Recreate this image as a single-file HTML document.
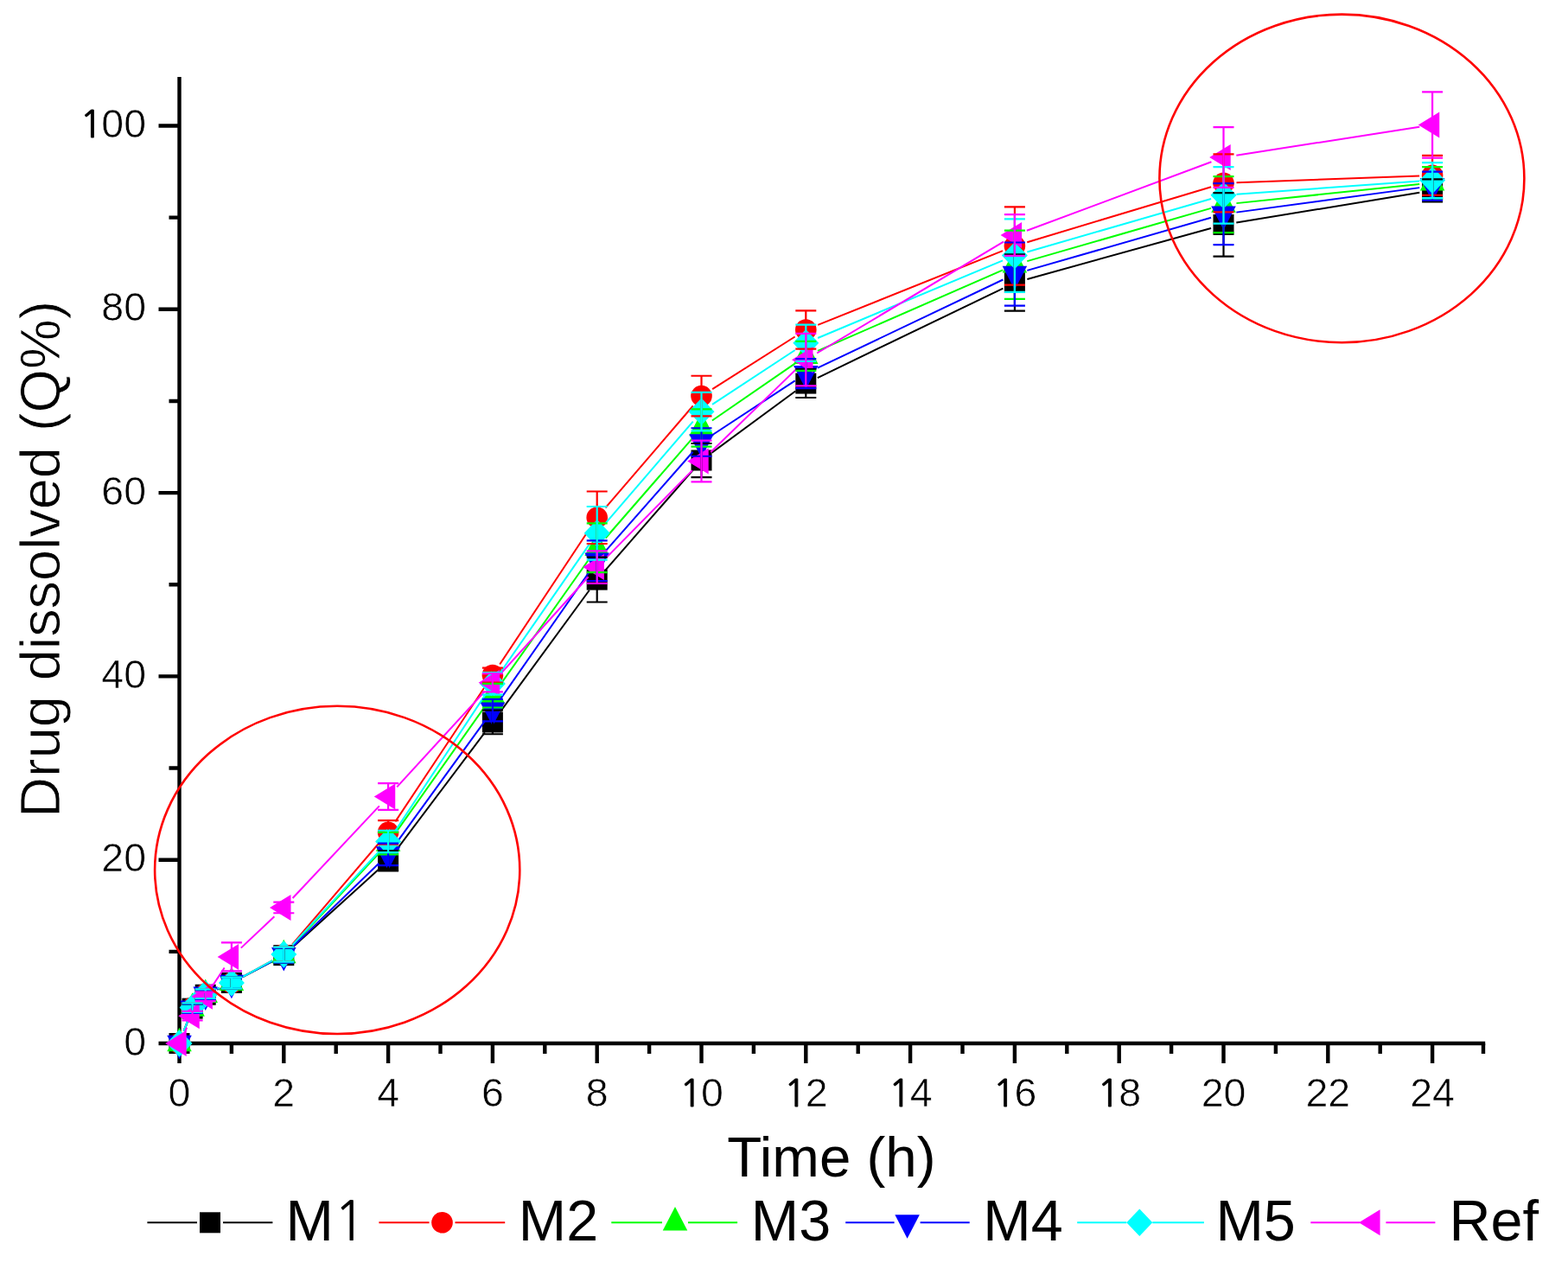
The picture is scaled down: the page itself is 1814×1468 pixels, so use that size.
<!DOCTYPE html>
<html><head><meta charset="utf-8"><title>Drug dissolved</title>
<style>html,body{margin:0;padding:0;background:#fff;overflow:hidden;}svg{display:block;} text{font-family:"Liberation Sans",Arial,sans-serif;fill:#000;}</style>
</head><body>
<svg width="1814" height="1468" viewBox="0 0 1814 1468">
<rect width="1814" height="1468" fill="#fff"/>
<path d="M207.5 89.0V1209.2M205.3 1207.0H1718.2" stroke="#000" stroke-width="4.4" fill="none"/>
<path d="M183.50 1207.00H207.5M195.50 1100.85H207.5M183.50 994.70H207.5M195.50 888.55H207.5M183.50 782.40H207.5M195.50 676.25H207.5M183.50 570.10H207.5M195.50 463.95H207.5M183.50 357.80H207.5M195.50 251.65H207.5M183.50 145.50H207.5M207.50 1207.0V1230.00M267.90 1207.0V1219.00M328.30 1207.0V1230.00M388.70 1207.0V1219.00M449.10 1207.0V1230.00M509.50 1207.0V1219.00M569.90 1207.0V1230.00M630.30 1207.0V1219.00M690.70 1207.0V1230.00M751.10 1207.0V1219.00M811.50 1207.0V1230.00M871.90 1207.0V1219.00M932.30 1207.0V1230.00M992.70 1207.0V1219.00M1053.10 1207.0V1230.00M1113.50 1207.0V1219.00M1173.90 1207.0V1230.00M1234.30 1207.0V1219.00M1294.70 1207.0V1230.00M1355.10 1207.0V1219.00M1415.50 1207.0V1230.00M1475.90 1207.0V1219.00M1536.30 1207.0V1230.00M1596.70 1207.0V1219.00M1657.10 1207.0V1230.00M1716.00 1207.0V1219.00" stroke="#000" stroke-width="4.4" fill="none"/>
<g>
<line x1="212.76" y1="1192.95" x2="217.34" y2="1180.71" stroke="#000000" stroke-width="2.0"/>
<line x1="251.34" y1="1144.51" x2="254.26" y2="1143.18" stroke="#000000" stroke-width="2.0"/>
<line x1="281.17" y1="1129.95" x2="315.03" y2="1112.09" stroke="#000000" stroke-width="2.0"/>
<line x1="339.42" y1="1095.03" x2="437.98" y2="1005.83" stroke="#000000" stroke-width="2.0"/>
<line x1="458.13" y1="983.78" x2="560.87" y2="847.45" stroke="#000000" stroke-width="2.0"/>
<line x1="578.77" y1="823.38" x2="681.83" y2="682.72" stroke="#000000" stroke-width="2.0"/>
<line x1="700.58" y1="659.33" x2="801.62" y2="543.81" stroke="#000000" stroke-width="2.0"/>
<line x1="823.58" y1="523.63" x2="920.22" y2="452.46" stroke="#000000" stroke-width="2.0"/>
<line x1="945.81" y1="437.05" x2="1160.39" y2="333.53" stroke="#000000" stroke-width="2.0"/>
<line x1="1188.35" y1="323.00" x2="1401.05" y2="263.94" stroke="#000000" stroke-width="2.0"/>
<line x1="1430.30" y1="257.50" x2="1642.30" y2="222.76" stroke="#000000" stroke-width="2.0"/>
<rect x="195.50" y="1195.00" width="24.0" height="24.0" fill="#000000"/>
<rect x="210.60" y="1154.66" width="24.0" height="24.0" fill="#000000"/>
<rect x="225.70" y="1138.74" width="24.0" height="24.0" fill="#000000"/>
<rect x="255.90" y="1124.94" width="24.0" height="24.0" fill="#000000"/>
<rect x="316.30" y="1093.10" width="24.0" height="24.0" fill="#000000"/>
<rect x="437.10" y="983.76" width="24.0" height="24.0" fill="#000000"/>
<rect x="557.90" y="823.47" width="24.0" height="24.0" fill="#000000"/>
<rect x="678.70" y="658.62" width="24.0" height="24.0" fill="#000000"/>
<rect x="799.50" y="520.52" width="24.0" height="24.0" fill="#000000"/>
<rect x="920.30" y="431.57" width="24.0" height="24.0" fill="#000000"/>
<rect x="1161.90" y="315.02" width="24.0" height="24.0" fill="#000000"/>
<rect x="1403.50" y="247.93" width="24.0" height="24.0" fill="#000000"/>
<rect x="1645.10" y="208.34" width="24.0" height="24.0" fill="#000000"/>
<line x1="212.64" y1="1192.91" x2="217.46" y2="1179.69" stroke="#ff0000" stroke-width="2.0"/>
<line x1="251.52" y1="1143.85" x2="254.08" y2="1142.77" stroke="#ff0000" stroke-width="2.0"/>
<line x1="281.07" y1="1129.76" x2="315.13" y2="1111.21" stroke="#ff0000" stroke-width="2.0"/>
<line x1="338.05" y1="1092.64" x2="439.35" y2="974.25" stroke="#ff0000" stroke-width="2.0"/>
<line x1="457.40" y1="950.36" x2="561.60" y2="793.51" stroke="#ff0000" stroke-width="2.0"/>
<line x1="578.19" y1="768.52" x2="682.41" y2="611.26" stroke="#ff0000" stroke-width="2.0"/>
<line x1="700.47" y1="587.38" x2="801.73" y2="469.49" stroke="#ff0000" stroke-width="2.0"/>
<line x1="824.17" y1="450.08" x2="919.63" y2="389.51" stroke="#ff0000" stroke-width="2.0"/>
<line x1="946.22" y1="375.89" x2="1159.98" y2="290.14" stroke="#ff0000" stroke-width="2.0"/>
<line x1="1188.26" y1="280.23" x2="1401.14" y2="216.17" stroke="#ff0000" stroke-width="2.0"/>
<line x1="1430.49" y1="211.28" x2="1642.11" y2="203.38" stroke="#ff0000" stroke-width="2.0"/>
<circle cx="207.50" cy="1207.00" r="12.3" fill="#ff0000"/>
<circle cx="222.60" cy="1165.60" r="12.3" fill="#ff0000"/>
<circle cx="237.70" cy="1149.68" r="12.3" fill="#ff0000"/>
<circle cx="267.90" cy="1136.94" r="12.3" fill="#ff0000"/>
<circle cx="328.30" cy="1104.03" r="12.3" fill="#ff0000"/>
<circle cx="449.10" cy="962.86" r="12.3" fill="#ff0000"/>
<circle cx="569.90" cy="781.02" r="12.3" fill="#ff0000"/>
<circle cx="690.70" cy="598.76" r="12.3" fill="#ff0000"/>
<circle cx="811.50" cy="458.11" r="12.3" fill="#ff0000"/>
<circle cx="932.30" cy="381.47" r="12.3" fill="#ff0000"/>
<circle cx="1173.90" cy="284.56" r="12.3" fill="#ff0000"/>
<circle cx="1415.50" cy="211.84" r="12.3" fill="#ff0000"/>
<circle cx="1657.10" cy="202.82" r="12.3" fill="#ff0000"/>
<line x1="212.76" y1="1192.95" x2="217.34" y2="1180.71" stroke="#00ff00" stroke-width="2.0"/>
<line x1="251.34" y1="1144.51" x2="254.26" y2="1143.18" stroke="#00ff00" stroke-width="2.0"/>
<line x1="281.17" y1="1129.95" x2="315.03" y2="1112.09" stroke="#00ff00" stroke-width="2.0"/>
<line x1="338.53" y1="1094.13" x2="438.87" y2="986.56" stroke="#00ff00" stroke-width="2.0"/>
<line x1="457.76" y1="963.34" x2="561.24" y2="816.94" stroke="#00ff00" stroke-width="2.0"/>
<line x1="578.56" y1="792.44" x2="682.04" y2="646.04" stroke="#00ff00" stroke-width="2.0"/>
<line x1="700.55" y1="622.48" x2="801.65" y2="506.36" stroke="#00ff00" stroke-width="2.0"/>
<line x1="823.86" y1="486.55" x2="919.94" y2="420.44" stroke="#00ff00" stroke-width="2.0"/>
<line x1="946.04" y1="405.93" x2="1160.16" y2="312.33" stroke="#00ff00" stroke-width="2.0"/>
<line x1="1188.31" y1="302.16" x2="1401.09" y2="240.84" stroke="#00ff00" stroke-width="2.0"/>
<line x1="1430.42" y1="235.12" x2="1642.18" y2="212.98" stroke="#00ff00" stroke-width="2.0"/>
<polygon points="207.50,1188.67 221.75,1216.17 193.25,1216.17" fill="#00ff00"/>
<polygon points="222.60,1148.33 236.85,1175.83 208.35,1175.83" fill="#00ff00"/>
<polygon points="237.70,1132.41 251.95,1159.91 223.45,1159.91" fill="#00ff00"/>
<polygon points="267.90,1118.61 282.15,1146.11 253.65,1146.11" fill="#00ff00"/>
<polygon points="328.30,1086.76 342.55,1114.26 314.05,1114.26" fill="#00ff00"/>
<polygon points="449.10,957.26 463.35,984.76 434.85,984.76" fill="#00ff00"/>
<polygon points="569.90,786.36 584.15,813.86 555.65,813.86" fill="#00ff00"/>
<polygon points="690.70,615.46 704.95,642.96 676.45,642.96" fill="#00ff00"/>
<polygon points="811.50,476.72 825.75,504.22 797.25,504.22" fill="#00ff00"/>
<polygon points="932.30,393.60 946.55,421.10 918.05,421.10" fill="#00ff00"/>
<polygon points="1173.90,287.98 1188.15,315.48 1159.65,315.48" fill="#00ff00"/>
<polygon points="1415.50,218.35 1429.75,245.85 1401.25,245.85" fill="#00ff00"/>
<polygon points="1657.10,193.09 1671.35,220.59 1642.85,220.59" fill="#00ff00"/>
<line x1="212.76" y1="1192.95" x2="217.34" y2="1180.71" stroke="#0000ff" stroke-width="2.0"/>
<line x1="251.34" y1="1144.51" x2="254.26" y2="1143.18" stroke="#0000ff" stroke-width="2.0"/>
<line x1="281.17" y1="1129.95" x2="315.03" y2="1112.09" stroke="#0000ff" stroke-width="2.0"/>
<line x1="339.09" y1="1094.67" x2="438.31" y2="998.76" stroke="#0000ff" stroke-width="2.0"/>
<line x1="457.90" y1="976.19" x2="561.10" y2="833.82" stroke="#0000ff" stroke-width="2.0"/>
<line x1="578.49" y1="809.38" x2="682.11" y2="660.95" stroke="#0000ff" stroke-width="2.0"/>
<line x1="700.61" y1="637.39" x2="801.59" y2="522.76" stroke="#0000ff" stroke-width="2.0"/>
<line x1="824.03" y1="503.27" x2="919.77" y2="440.34" stroke="#0000ff" stroke-width="2.0"/>
<line x1="945.84" y1="425.66" x2="1160.36" y2="323.49" stroke="#0000ff" stroke-width="2.0"/>
<line x1="1188.32" y1="312.90" x2="1401.08" y2="251.76" stroke="#0000ff" stroke-width="2.0"/>
<line x1="1430.37" y1="245.62" x2="1642.23" y2="217.13" stroke="#0000ff" stroke-width="2.0"/>
<polygon points="207.50,1225.33 221.75,1197.83 193.25,1197.83" fill="#0000ff"/>
<polygon points="222.60,1185.00 236.85,1157.50 208.35,1157.50" fill="#0000ff"/>
<polygon points="237.70,1169.07 251.95,1141.57 223.45,1141.57" fill="#0000ff"/>
<polygon points="267.90,1155.27 282.15,1127.77 253.65,1127.77" fill="#0000ff"/>
<polygon points="328.30,1123.43 342.55,1095.93 314.05,1095.93" fill="#0000ff"/>
<polygon points="449.10,1006.66 463.35,979.16 434.85,979.16" fill="#0000ff"/>
<polygon points="569.90,840.01 584.15,812.51 555.65,812.51" fill="#0000ff"/>
<polygon points="690.70,666.98 704.95,639.48 676.45,639.48" fill="#0000ff"/>
<polygon points="811.50,529.84 825.75,502.34 797.25,502.34" fill="#0000ff"/>
<polygon points="932.30,450.44 946.55,422.94 918.05,422.94" fill="#0000ff"/>
<polygon points="1173.90,335.37 1188.15,307.87 1159.65,307.87" fill="#0000ff"/>
<polygon points="1415.50,265.95 1429.75,238.45 1401.25,238.45" fill="#0000ff"/>
<polygon points="1657.10,233.47 1671.35,205.97 1642.85,205.97" fill="#0000ff"/>
<line x1="212.64" y1="1192.91" x2="217.46" y2="1179.69" stroke="#00ffff" stroke-width="2.0"/>
<line x1="251.52" y1="1143.85" x2="254.08" y2="1142.77" stroke="#00ffff" stroke-width="2.0"/>
<line x1="281.07" y1="1129.76" x2="315.13" y2="1111.21" stroke="#00ffff" stroke-width="2.0"/>
<line x1="338.49" y1="1093.02" x2="438.91" y2="984.48" stroke="#00ffff" stroke-width="2.0"/>
<line x1="457.38" y1="960.96" x2="561.62" y2="803.40" stroke="#00ffff" stroke-width="2.0"/>
<line x1="578.45" y1="778.57" x2="682.15" y2="629.13" stroke="#00ffff" stroke-width="2.0"/>
<line x1="700.47" y1="605.43" x2="801.73" y2="487.54" stroke="#00ffff" stroke-width="2.0"/>
<line x1="824.03" y1="467.92" x2="919.77" y2="405.00" stroke="#00ffff" stroke-width="2.0"/>
<line x1="946.14" y1="390.96" x2="1160.06" y2="301.39" stroke="#00ffff" stroke-width="2.0"/>
<line x1="1188.31" y1="291.44" x2="1401.09" y2="230.02" stroke="#00ffff" stroke-width="2.0"/>
<line x1="1430.46" y1="224.78" x2="1642.14" y2="209.62" stroke="#00ffff" stroke-width="2.0"/>
<polygon points="207.50,1191.30 222.50,1207.00 207.50,1222.70 192.50,1207.00" fill="#00ffff"/>
<polygon points="222.60,1149.90 237.60,1165.60 222.60,1181.30 207.60,1165.60" fill="#00ffff"/>
<polygon points="237.70,1133.98 252.70,1149.68 237.70,1165.38 222.70,1149.68" fill="#00ffff"/>
<polygon points="267.90,1121.24 282.90,1136.94 267.90,1152.64 252.90,1136.94" fill="#00ffff"/>
<polygon points="328.30,1088.33 343.30,1104.03 328.30,1119.73 313.30,1104.03" fill="#00ffff"/>
<polygon points="449.10,957.77 464.10,973.47 449.10,989.17 434.10,973.47" fill="#00ffff"/>
<polygon points="569.90,775.19 584.90,790.89 569.90,806.59 554.90,790.89" fill="#00ffff"/>
<polygon points="690.70,601.11 705.70,616.81 690.70,632.51 675.70,616.81" fill="#00ffff"/>
<polygon points="811.50,460.46 826.50,476.16 811.50,491.86 796.50,476.16" fill="#00ffff"/>
<polygon points="932.30,381.06 947.30,396.76 932.30,412.46 917.30,396.76" fill="#00ffff"/>
<polygon points="1173.90,279.90 1188.90,295.60 1173.90,311.30 1158.90,295.60" fill="#00ffff"/>
<polygon points="1415.50,210.16 1430.50,225.86 1415.50,241.56 1400.50,225.86" fill="#00ffff"/>
<polygon points="1657.10,192.85 1672.10,208.55 1657.10,224.25 1642.10,208.55" fill="#00ffff"/>
<line x1="213.93" y1="1193.45" x2="216.17" y2="1188.71" stroke="#ff00ff" stroke-width="2.0"/>
<line x1="245.94" y1="1140.33" x2="259.66" y2="1119.44" stroke="#ff00ff" stroke-width="2.0"/>
<line x1="278.81" y1="1096.61" x2="317.39" y2="1060.19" stroke="#ff00ff" stroke-width="2.0"/>
<line x1="338.58" y1="1038.97" x2="438.82" y2="932.38" stroke="#ff00ff" stroke-width="2.0"/>
<line x1="459.24" y1="910.41" x2="559.76" y2="800.88" stroke="#ff00ff" stroke-width="2.0"/>
<line x1="579.95" y1="778.70" x2="680.65" y2="667.21" stroke="#ff00ff" stroke-width="2.0"/>
<line x1="701.23" y1="645.40" x2="800.97" y2="544.16" stroke="#ff00ff" stroke-width="2.0"/>
<line x1="822.26" y1="523.03" x2="921.54" y2="426.63" stroke="#ff00ff" stroke-width="2.0"/>
<line x1="945.18" y1="408.50" x2="1161.02" y2="279.72" stroke="#ff00ff" stroke-width="2.0"/>
<line x1="1187.96" y1="266.79" x2="1401.44" y2="187.25" stroke="#ff00ff" stroke-width="2.0"/>
<line x1="1430.32" y1="179.71" x2="1642.28" y2="146.74" stroke="#ff00ff" stroke-width="2.0"/>
<polygon points="191.17,1207.00 215.67,1192.00 215.67,1222.00" fill="#ff00ff"/>
<polygon points="206.27,1175.15 230.77,1160.15 230.77,1190.15" fill="#ff00ff"/>
<polygon points="221.37,1152.86 245.87,1137.86 245.87,1167.86" fill="#ff00ff"/>
<polygon points="251.57,1106.90 276.07,1091.90 276.07,1121.90" fill="#ff00ff"/>
<polygon points="311.97,1049.90 336.47,1034.90 336.47,1064.90" fill="#ff00ff"/>
<polygon points="432.77,921.46 457.27,906.46 457.27,936.46" fill="#ff00ff"/>
<polygon points="553.57,789.83 578.07,774.83 578.07,804.83" fill="#ff00ff"/>
<polygon points="674.37,656.08 698.87,641.08 698.87,671.08" fill="#ff00ff"/>
<polygon points="795.17,533.48 819.67,518.48 819.67,548.48" fill="#ff00ff"/>
<polygon points="915.97,416.18 940.47,401.18 940.47,431.18" fill="#ff00ff"/>
<polygon points="1157.57,272.03 1182.07,257.03 1182.07,287.03" fill="#ff00ff"/>
<polygon points="1399.17,182.02 1423.67,167.02 1423.67,197.02" fill="#ff00ff"/>
<polygon points="1640.77,144.44 1665.27,129.44 1665.27,159.44" fill="#ff00ff"/>
</g>
<g>
<path d="M222.60 1161.36V1171.97M210.60 1161.36H234.60M210.60 1171.97H234.60" stroke="#000000" stroke-width="2.2" fill="none"/>
<path d="M237.70 1145.43V1156.05M225.70 1145.43H249.70M225.70 1156.05H249.70" stroke="#000000" stroke-width="2.2" fill="none"/>
<path d="M267.90 1130.57V1143.31M255.90 1130.57H279.90M255.90 1143.31H279.90" stroke="#000000" stroke-width="2.2" fill="none"/>
<path d="M328.30 1096.60V1113.59M316.30 1096.60H340.30M316.30 1113.59H340.30" stroke="#000000" stroke-width="2.2" fill="none"/>
<path d="M449.10 984.09V1007.44M437.10 984.09H461.10M437.10 1007.44H461.10" stroke="#000000" stroke-width="2.2" fill="none"/>
<path d="M569.90 821.68V849.27M557.90 821.68H581.90M557.90 849.27H581.90" stroke="#000000" stroke-width="2.2" fill="none"/>
<path d="M690.70 644.72V696.52M678.70 644.72H702.70M678.70 696.52H702.70" stroke="#000000" stroke-width="2.2" fill="none"/>
<path d="M811.50 512.99V552.05M799.50 512.99H823.50M799.50 552.05H823.50" stroke="#000000" stroke-width="2.2" fill="none"/>
<path d="M932.30 427.12V460.02M920.30 427.12H944.30M920.30 460.02H944.30" stroke="#000000" stroke-width="2.2" fill="none"/>
<path d="M1173.90 294.32V359.71M1161.90 294.32H1185.90M1161.90 359.71H1185.90" stroke="#000000" stroke-width="2.2" fill="none"/>
<path d="M1415.50 223.20V296.66M1403.50 223.20H1427.50M1403.50 296.66H1427.50" stroke="#000000" stroke-width="2.2" fill="none"/>
<path d="M1657.10 207.28V233.39M1645.10 207.28H1669.10M1645.10 233.39H1669.10" stroke="#000000" stroke-width="2.2" fill="none"/>
<path d="M222.60 1160.29V1170.91M210.60 1160.29H234.60M210.60 1170.91H234.60" stroke="#ff0000" stroke-width="2.2" fill="none"/>
<path d="M237.70 1144.37V1154.99M225.70 1144.37H249.70M225.70 1154.99H249.70" stroke="#ff0000" stroke-width="2.2" fill="none"/>
<path d="M267.90 1130.57V1143.31M255.90 1130.57H279.90M255.90 1143.31H279.90" stroke="#ff0000" stroke-width="2.2" fill="none"/>
<path d="M328.30 1095.54V1112.53M316.30 1095.54H340.30M316.30 1112.53H340.30" stroke="#ff0000" stroke-width="2.2" fill="none"/>
<path d="M449.10 949.06V976.65M437.10 949.06H461.10M437.10 976.65H461.10" stroke="#ff0000" stroke-width="2.2" fill="none"/>
<path d="M569.90 772.53V789.51M557.90 772.53H581.90M557.90 789.51H581.90" stroke="#ff0000" stroke-width="2.2" fill="none"/>
<path d="M690.70 568.51V629.01M678.70 568.51H702.70M678.70 629.01H702.70" stroke="#ff0000" stroke-width="2.2" fill="none"/>
<path d="M811.50 434.76V481.46M799.50 434.76H823.50M799.50 481.46H823.50" stroke="#ff0000" stroke-width="2.2" fill="none"/>
<path d="M932.30 359.29V403.66M920.30 359.29H944.30M920.30 403.66H944.30" stroke="#ff0000" stroke-width="2.2" fill="none"/>
<path d="M1173.90 239.44V329.67M1161.90 239.44H1185.90M1161.90 329.67H1185.90" stroke="#ff0000" stroke-width="2.2" fill="none"/>
<path d="M1415.50 178.41V245.28M1403.50 178.41H1427.50M1403.50 245.28H1427.50" stroke="#ff0000" stroke-width="2.2" fill="none"/>
<path d="M1657.10 179.89V225.75M1645.10 179.89H1669.10M1645.10 225.75H1669.10" stroke="#ff0000" stroke-width="2.2" fill="none"/>
<path d="M222.60 1161.36V1171.97M210.60 1161.36H234.60M210.60 1171.97H234.60" stroke="#00ff00" stroke-width="2.2" fill="none"/>
<path d="M237.70 1145.43V1156.05M225.70 1145.43H249.70M225.70 1156.05H249.70" stroke="#00ff00" stroke-width="2.2" fill="none"/>
<path d="M267.90 1130.57V1143.31M255.90 1130.57H279.90M255.90 1143.31H279.90" stroke="#00ff00" stroke-width="2.2" fill="none"/>
<path d="M328.30 1096.60V1113.59M316.30 1096.60H340.30M316.30 1113.59H340.30" stroke="#00ff00" stroke-width="2.2" fill="none"/>
<path d="M449.10 962.86V988.33M437.10 962.86H461.10M437.10 988.33H461.10" stroke="#00ff00" stroke-width="2.2" fill="none"/>
<path d="M569.90 790.89V818.49M557.90 790.89H581.90M557.90 818.49H581.90" stroke="#00ff00" stroke-width="2.2" fill="none"/>
<path d="M690.70 605.45V662.13M678.70 605.45H702.70M678.70 662.13H702.70" stroke="#00ff00" stroke-width="2.2" fill="none"/>
<path d="M811.50 473.40V516.71M799.50 473.40H823.50M799.50 516.71H823.50" stroke="#00ff00" stroke-width="2.2" fill="none"/>
<path d="M932.30 394.95V428.92M920.30 394.95H944.30M920.30 428.92H944.30" stroke="#00ff00" stroke-width="2.2" fill="none"/>
<path d="M1173.90 266.72V345.91M1161.90 266.72H1185.90M1161.90 345.91H1185.90" stroke="#00ff00" stroke-width="2.2" fill="none"/>
<path d="M1415.50 204.20V269.16M1403.50 204.20H1427.50M1403.50 269.16H1427.50" stroke="#00ff00" stroke-width="2.2" fill="none"/>
<path d="M1657.10 193.06V229.78M1645.10 193.06H1669.10M1645.10 229.78H1669.10" stroke="#00ff00" stroke-width="2.2" fill="none"/>
<path d="M222.60 1161.36V1171.97M210.60 1161.36H234.60M210.60 1171.97H234.60" stroke="#0000ff" stroke-width="2.2" fill="none"/>
<path d="M237.70 1145.43V1156.05M225.70 1145.43H249.70M225.70 1156.05H249.70" stroke="#0000ff" stroke-width="2.2" fill="none"/>
<path d="M267.90 1130.57V1143.31M255.90 1130.57H279.90M255.90 1143.31H279.90" stroke="#0000ff" stroke-width="2.2" fill="none"/>
<path d="M328.30 1096.60V1113.59M316.30 1096.60H340.30M316.30 1113.59H340.30" stroke="#0000ff" stroke-width="2.2" fill="none"/>
<path d="M449.10 975.59V1001.07M437.10 975.59H461.10M437.10 1001.07H461.10" stroke="#0000ff" stroke-width="2.2" fill="none"/>
<path d="M569.90 808.94V834.41M557.90 808.94H581.90M557.90 834.41H581.90" stroke="#0000ff" stroke-width="2.2" fill="none"/>
<path d="M690.70 625.30V672.00M678.70 625.30H702.70M678.70 672.00H702.70" stroke="#0000ff" stroke-width="2.2" fill="none"/>
<path d="M811.50 495.26V527.75M799.50 495.26H823.50M799.50 527.75H823.50" stroke="#0000ff" stroke-width="2.2" fill="none"/>
<path d="M932.30 415.12V449.09M920.30 415.12H944.30M920.30 449.09H944.30" stroke="#0000ff" stroke-width="2.2" fill="none"/>
<path d="M1173.90 280.52V353.55M1161.90 280.52H1185.90M1161.90 353.55H1185.90" stroke="#0000ff" stroke-width="2.2" fill="none"/>
<path d="M1415.50 212.06V283.18M1403.50 212.06H1427.50M1403.50 283.18H1427.50" stroke="#0000ff" stroke-width="2.2" fill="none"/>
<path d="M1657.10 198.57V231.69M1645.10 198.57H1669.10M1645.10 231.69H1669.10" stroke="#0000ff" stroke-width="2.2" fill="none"/>
<path d="M222.60 1160.29V1170.91M210.60 1160.29H234.60M210.60 1170.91H234.60" stroke="#00ffff" stroke-width="2.2" fill="none"/>
<path d="M237.70 1144.37V1154.99M225.70 1144.37H249.70M225.70 1154.99H249.70" stroke="#00ffff" stroke-width="2.2" fill="none"/>
<path d="M267.90 1130.57V1143.31M255.90 1130.57H279.90M255.90 1143.31H279.90" stroke="#00ffff" stroke-width="2.2" fill="none"/>
<path d="M328.30 1095.54V1112.53M316.30 1095.54H340.30M316.30 1112.53H340.30" stroke="#00ffff" stroke-width="2.2" fill="none"/>
<path d="M449.10 960.73V986.21M437.10 960.73H461.10M437.10 986.21H461.10" stroke="#00ffff" stroke-width="2.2" fill="none"/>
<path d="M569.90 778.15V803.63M557.90 778.15H581.90M557.90 803.63H581.90" stroke="#00ffff" stroke-width="2.2" fill="none"/>
<path d="M690.70 586.02V647.59M678.70 586.02H702.70M678.70 647.59H702.70" stroke="#00ffff" stroke-width="2.2" fill="none"/>
<path d="M811.50 453.87V498.45M799.50 453.87H823.50M799.50 498.45H823.50" stroke="#00ffff" stroke-width="2.2" fill="none"/>
<path d="M932.30 375.53V417.99M920.30 375.53H944.30M920.30 417.99H944.30" stroke="#00ffff" stroke-width="2.2" fill="none"/>
<path d="M1173.90 253.35V337.84M1161.90 253.35H1185.90M1161.90 337.84H1185.90" stroke="#00ffff" stroke-width="2.2" fill="none"/>
<path d="M1415.50 193.06V258.66M1403.50 193.06H1427.50M1403.50 258.66H1427.50" stroke="#00ffff" stroke-width="2.2" fill="none"/>
<path d="M1657.10 188.07V229.04M1645.10 188.07H1669.10M1645.10 229.04H1669.10" stroke="#00ffff" stroke-width="2.2" fill="none"/>
<path d="M222.60 1169.85V1180.46M210.60 1169.85H234.60M210.60 1180.46H234.60" stroke="#ff00ff" stroke-width="2.2" fill="none"/>
<path d="M237.70 1147.56V1158.17M225.70 1147.56H249.70M225.70 1158.17H249.70" stroke="#ff00ff" stroke-width="2.2" fill="none"/>
<path d="M267.90 1090.45V1123.35M255.90 1090.45H279.90M255.90 1123.35H279.90" stroke="#ff00ff" stroke-width="2.2" fill="none"/>
<path d="M328.30 1043.53V1056.27M316.30 1043.53H340.30M316.30 1056.27H340.30" stroke="#ff00ff" stroke-width="2.2" fill="none"/>
<path d="M449.10 906.06V936.85M437.10 906.06H461.10M437.10 936.85H461.10" stroke="#ff00ff" stroke-width="2.2" fill="none"/>
<path d="M569.90 779.22V800.45M557.90 779.22H581.90M557.90 800.45H581.90" stroke="#ff00ff" stroke-width="2.2" fill="none"/>
<path d="M690.70 637.29V674.87M678.70 637.29H702.70M678.70 674.87H702.70" stroke="#ff00ff" stroke-width="2.2" fill="none"/>
<path d="M811.50 509.59V557.36M799.50 509.59H823.50M799.50 557.36H823.50" stroke="#ff00ff" stroke-width="2.2" fill="none"/>
<path d="M932.30 385.93V446.44M920.30 385.93H944.30M920.30 446.44H944.30" stroke="#ff00ff" stroke-width="2.2" fill="none"/>
<path d="M1173.90 248.15V295.91M1161.90 248.15H1185.90M1161.90 295.91H1185.90" stroke="#ff00ff" stroke-width="2.2" fill="none"/>
<path d="M1415.50 147.20V216.83M1403.50 147.20H1427.50M1403.50 216.83H1427.50" stroke="#ff00ff" stroke-width="2.2" fill="none"/>
<path d="M1657.10 106.33V182.55M1645.10 106.33H1669.10M1645.10 182.55H1669.10" stroke="#ff00ff" stroke-width="2.2" fill="none"/>
</g>
<g stroke="#fff" stroke-width="0.6" paint-order="fill">
<text x="169" y="1220.60" font-size="46.5" text-anchor="end">0</text>
<text x="169" y="1008.30" font-size="46.5" text-anchor="end">20</text>
<text x="169" y="796.00" font-size="46.5" text-anchor="end">40</text>
<text x="169" y="583.70" font-size="46.5" text-anchor="end">60</text>
<text x="169" y="371.40" font-size="46.5" text-anchor="end">80</text>
<text x="169" y="159.10" font-size="46.5" text-anchor="end"><tspan font-family="NanumGothic, Liberation Sans, sans-serif" font-size="43.71" stroke="#000" stroke-width="0.9">1</tspan><tspan dx="-1.5">0</tspan>0</text>
<text x="207.50" y="1279.5" font-size="46.5" text-anchor="middle">0</text>
<text x="328.30" y="1279.5" font-size="46.5" text-anchor="middle">2</text>
<text x="449.10" y="1279.5" font-size="46.5" text-anchor="middle">4</text>
<text x="569.90" y="1279.5" font-size="46.5" text-anchor="middle">6</text>
<text x="690.70" y="1279.5" font-size="46.5" text-anchor="middle">8</text>
<text x="811.50" y="1279.5" font-size="46.5" text-anchor="middle"><tspan font-family="NanumGothic, Liberation Sans, sans-serif" font-size="43.71" stroke="#000" stroke-width="0.9">1</tspan><tspan dx="-1.5">0</tspan></text>
<text x="932.30" y="1279.5" font-size="46.5" text-anchor="middle"><tspan font-family="NanumGothic, Liberation Sans, sans-serif" font-size="43.71" stroke="#000" stroke-width="0.9">1</tspan><tspan dx="-1.5">2</tspan></text>
<text x="1053.10" y="1279.5" font-size="46.5" text-anchor="middle"><tspan font-family="NanumGothic, Liberation Sans, sans-serif" font-size="43.71" stroke="#000" stroke-width="0.9">1</tspan><tspan dx="-1.5">4</tspan></text>
<text x="1173.90" y="1279.5" font-size="46.5" text-anchor="middle"><tspan font-family="NanumGothic, Liberation Sans, sans-serif" font-size="43.71" stroke="#000" stroke-width="0.9">1</tspan><tspan dx="-1.5">6</tspan></text>
<text x="1294.70" y="1279.5" font-size="46.5" text-anchor="middle"><tspan font-family="NanumGothic, Liberation Sans, sans-serif" font-size="43.71" stroke="#000" stroke-width="0.9">1</tspan><tspan dx="-1.5">8</tspan></text>
<text x="1415.50" y="1279.5" font-size="46.5" text-anchor="middle">20</text>
<text x="1536.30" y="1279.5" font-size="46.5" text-anchor="middle">22</text>
<text x="1657.10" y="1279.5" font-size="46.5" text-anchor="middle">24</text>
</g>
<text x="961.9" y="1361" font-size="65.5" text-anchor="middle">Time (h)</text>
<text transform="translate(69,646.8) rotate(-90)" x="0" y="0" font-size="64.8" text-anchor="middle" stroke="#fff" stroke-width="0.8" paint-order="fill">Drug dissolved (Q%)</text>
<ellipse cx="1552.4" cy="206.4" rx="211" ry="189.8" stroke="#ff0000" stroke-width="2.6" fill="none"/>
<ellipse cx="390.2" cy="1006.4" rx="211.1" ry="189.6" stroke="#ff0000" stroke-width="2.6" fill="none"/>
<line x1="170.4" y1="1414.3" x2="228.0" y2="1414.3" stroke="#000000" stroke-width="2.0"/>
<line x1="258.0" y1="1414.3" x2="315.4" y2="1414.3" stroke="#000000" stroke-width="2.0"/>
<rect x="231.00" y="1402.30" width="24.0" height="24.0" fill="#000000"/>
<text x="330.4" y="1434.5" font-size="66.5">M<tspan font-family="NanumGothic, Liberation Sans, sans-serif" font-size="62.51" stroke="none">1</tspan></text>
<line x1="438.4" y1="1414.3" x2="496.5" y2="1414.3" stroke="#ff0000" stroke-width="2.0"/>
<line x1="526.5" y1="1414.3" x2="584.2" y2="1414.3" stroke="#ff0000" stroke-width="2.0"/>
<circle cx="511.50" cy="1414.30" r="12.3" fill="#ff0000"/>
<text x="599.8" y="1434.5" font-size="66.5">M2</text>
<line x1="707.3" y1="1414.3" x2="766.0" y2="1414.3" stroke="#00ff00" stroke-width="2.0"/>
<line x1="796.0" y1="1414.3" x2="853.1" y2="1414.3" stroke="#00ff00" stroke-width="2.0"/>
<polygon points="781.00,1395.97 795.25,1423.47 766.75,1423.47" fill="#00ff00"/>
<text x="868.8" y="1434.5" font-size="66.5">M3</text>
<line x1="978.2" y1="1414.3" x2="1034.6" y2="1414.3" stroke="#0000ff" stroke-width="2.0"/>
<line x1="1064.6" y1="1414.3" x2="1121.7" y2="1414.3" stroke="#0000ff" stroke-width="2.0"/>
<polygon points="1049.60,1432.63 1063.85,1405.13 1035.35,1405.13" fill="#0000ff"/>
<text x="1137.3" y="1434.5" font-size="66.5">M4</text>
<line x1="1246.2" y1="1414.3" x2="1303.3" y2="1414.3" stroke="#00ffff" stroke-width="2.0"/>
<line x1="1333.3" y1="1414.3" x2="1392.9" y2="1414.3" stroke="#00ffff" stroke-width="2.0"/>
<polygon points="1318.30,1398.60 1333.30,1414.30 1318.30,1430.00 1303.30,1414.30" fill="#00ffff"/>
<text x="1406.4" y="1434.5" font-size="66.5">M5</text>
<line x1="1516.3" y1="1414.3" x2="1573.4" y2="1414.3" stroke="#ff00ff" stroke-width="2.0"/>
<line x1="1603.4" y1="1414.3" x2="1660.4" y2="1414.3" stroke="#ff00ff" stroke-width="2.0"/>
<polygon points="1572.07,1414.30 1596.57,1399.30 1596.57,1429.30" fill="#ff00ff"/>
<text x="1676.5" y="1434.5" font-size="66.5">Ref</text>
</svg>
</body></html>
